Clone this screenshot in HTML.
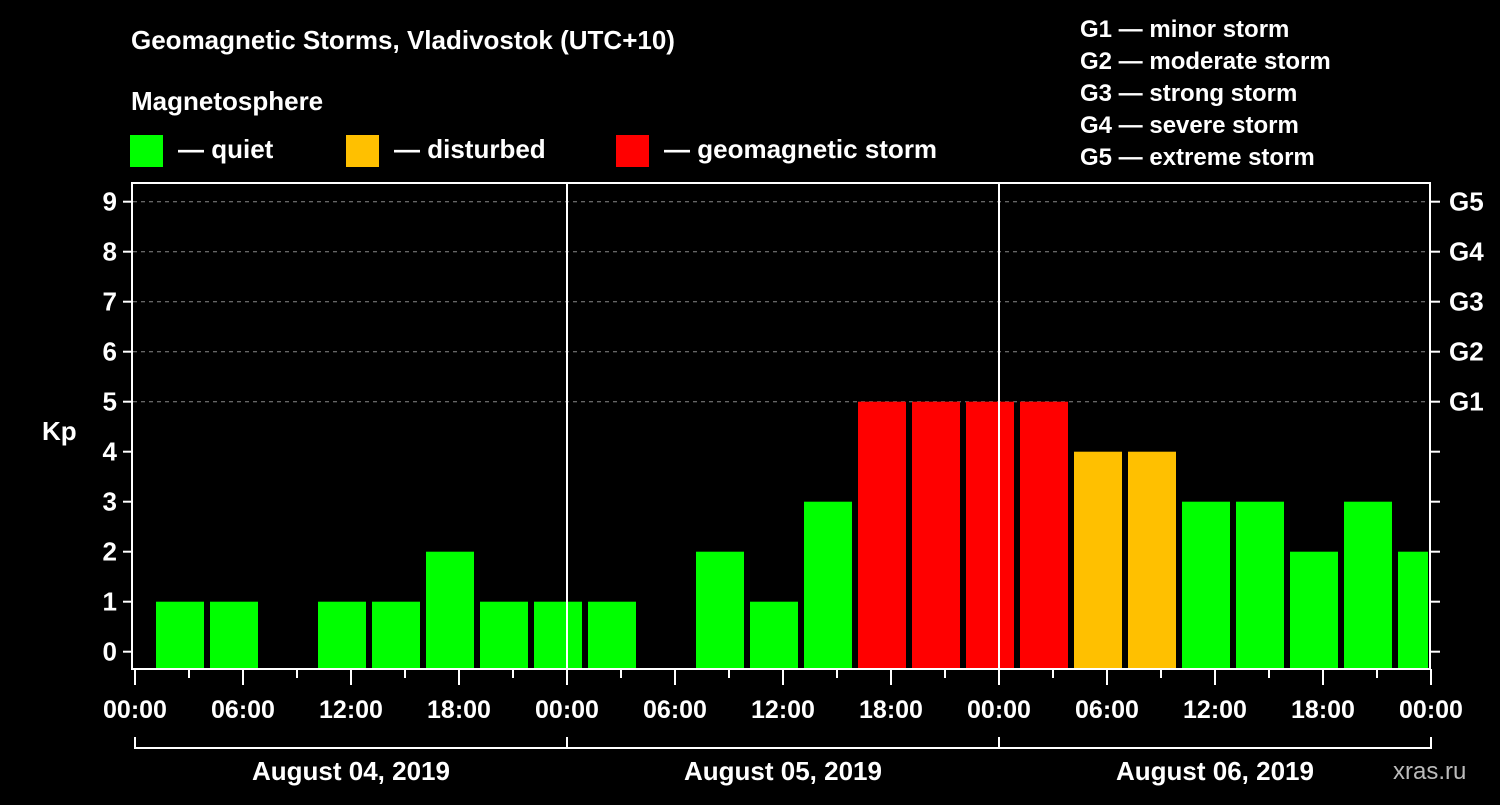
<!DOCTYPE html>
<html><head><meta charset="utf-8"><style>
body{margin:0;background:#000;width:1500px;height:800px;overflow:hidden}
svg text{font-family:"Liberation Sans",sans-serif;font-weight:bold;fill:#fff}
</style></head><body>
<svg id="chart" width="1500" height="800" xmlns="http://www.w3.org/2000/svg">
<rect width="1500" height="800" fill="#000"/>
<text x="131" y="49" font-size="26">Geomagnetic Storms, Vladivostok (UTC+10)</text>
<text x="131" y="110" font-size="26">Magnetosphere</text>
<g><rect x="130" y="135" width="33" height="32" fill="#00ff00"/><text x="178" y="158" font-size="26">— quiet</text></g>
<g><rect x="346" y="135" width="33" height="32" fill="#ffc000"/><text x="394" y="158" font-size="26">— disturbed</text></g>
<g><rect x="616" y="135" width="33" height="32" fill="#ff0000"/><text x="664" y="158" font-size="26">— geomagnetic storm</text></g>
<g font-size="24">
<text x="1080" y="37">G1 — minor storm</text>
<text x="1080" y="69">G2 — moderate storm</text>
<text x="1080" y="101">G3 — strong storm</text>
<text x="1080" y="133">G4 — severe storm</text>
<text x="1080" y="165">G5 — extreme storm</text>
</g>
<text x="42" y="440" font-size="26">Kp</text>
<text x="1393" y="779" font-size="24" fill="#ccc" style="fill:#bbb;font-weight:normal">xras.ru</text>
<g id="grid"></g><g id="bars"></g><g id="axes"></g>
</svg>
<script>
const kpValues=[1,1,0,1,1,2,1,1, 1,0,2,1,3,5,5,5, 5,4,4,3,3,2,3,2];
const dayLabels=["August 04, 2019","August 05, 2019","August 06, 2019"];
const yTicks=[0,1,2,3,4,5,6,7,8,9];
const gLabels=["G1","G2","G3","G4","G5"];
const hourLabels=["00:00","06:00","12:00","18:00"];
const NS="http://www.w3.org/2000/svg";
const X0=135,HOURPX=18,Y0=651.7,UNIT=50,TOP=183,BOT=669,RIGHT=1430;
const xs=h=>X0+h*HOURPX, ys=v=>Y0-v*UNIT;
function mk(p,t,a){const e=document.createElementNS(NS,t);for(const k in a)e.setAttribute(k,a[k]);p.appendChild(e);return e;}
const grid=document.getElementById('grid'),bars=document.getElementById('bars'),axes=document.getElementById('axes');
[5,6,7,8,9].forEach(v=>{const l=mk(grid,'line',{x1:133,x2:RIGHT,y1:ys(v),y2:ys(v),stroke:'#888','stroke-dasharray':'4,4','stroke-width':1});

});
kpValues.forEach((v,i)=>{if(v<=0)return;
const c=v>=5?'#ff0000':v>=4?'#ffc000':'#00ff00';
const x=xs(i*3)+21,w=Math.min(48,RIGHT-2-x);
const r=mk(bars,'rect',{x:x,y:ys(v),width:w,height:BOT-1-ys(v),fill:c});

});
mk(axes,'rect',{x:132,y:TOP,width:RIGHT-132,height:BOT-TOP,fill:'none',stroke:'#fff','stroke-width':2});
[1,2].forEach(d=>mk(axes,'line',{x1:xs(24*d),x2:xs(24*d),y1:TOP,y2:BOT,stroke:'#fff','stroke-width':2}));
yTicks.forEach(v=>{mk(axes,'line',{x1:123,x2:132,y1:ys(v),y2:ys(v),stroke:'#fff','stroke-width':2});
mk(axes,'line',{x1:RIGHT,x2:RIGHT+10,y1:ys(v),y2:ys(v),stroke:'#fff','stroke-width':2});
const t=mk(axes,'text',{x:117,y:ys(v)+9,'font-size':26,'text-anchor':'end'});t.textContent=v;

});
gLabels.forEach((g,i)=>{const t=mk(axes,'text',{x:1449,y:ys(5+i)+9,'font-size':26});t.textContent=g;

});
for(let h=0;h<=72;h+=3){const major=h%6===0;
mk(axes,'line',{x1:xs(h),x2:xs(h),y1:BOT,y2:BOT+(major?16:9),stroke:'#fff','stroke-width':2});
if(major){const t=mk(axes,'text',{x:xs(h),y:718,'font-size':25,'text-anchor':'middle'});t.textContent=hourLabels[(h/6)%4];

}}
dayLabels.forEach((d,i)=>{const a=xs(24*i),b=xs(24*i+24);
mk(axes,'path',{d:`M${a} 737V748H${b}V737`,stroke:'#fff','stroke-width':2,fill:'none'});
const t=mk(axes,'text',{x:(a+b)/2,y:780,'font-size':26,'text-anchor':'middle'});t.textContent=d;

});
</script>
</body></html>
